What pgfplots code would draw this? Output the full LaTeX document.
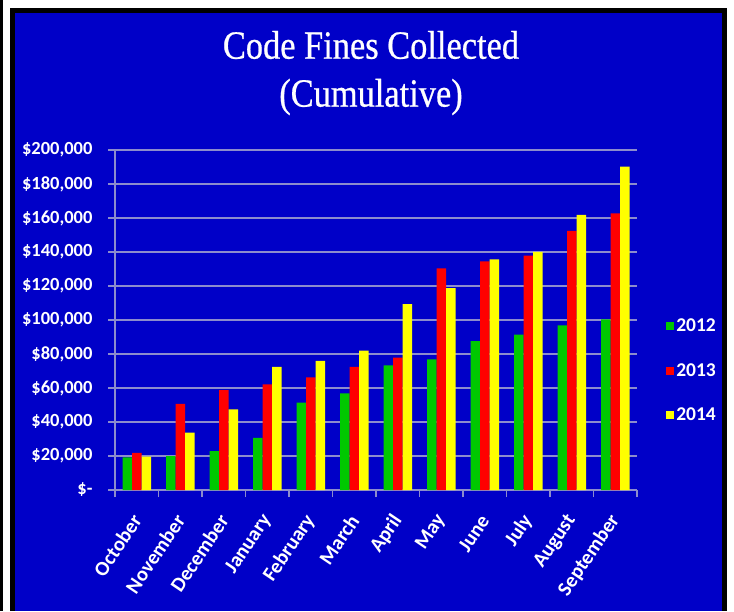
\documentclass[border=0pt]{standalone}
\usepackage{pgfplots}
\pgfplotsset{compat=1.18}
\usepackage{fontspec}
\setmainfont{Carlito}
\newfontfamily\titlefont[FakeStretch=0.86,FakeBold=0.6]{Liberation Serif}
\definecolor{bg}{RGB}{0,0,200}
\definecolor{gridc}{RGB}{140,140,205}
\definecolor{g12}{RGB}{0,200,0}
\definecolor{r13}{RGB}{255,0,0}
\definecolor{y14}{RGB}{255,255,0}
\begin{document}
\begin{tikzpicture}
\fill[white] (0,0) rectangle (734pt,611pt);
\fill[black] (0,0) rectangle (3pt,611pt);
\fill[black] (10pt,0) rectangle (727pt,603pt);
\fill[bg] (15pt,0) rectangle (722pt,598pt);
\node[text=white, font=\titlefont\fontsize{40}{44}\selectfont] at (371pt,566pt) {Code Fines Collected};
\node[text=white, font=\titlefont\fontsize{40}{44}\selectfont] at (371pt,514pt) {(Cumulative)};
\begin{axis}[
  at={(115pt,121pt)}, anchor=south west,
  scale only axis, width=522pt, height=340pt,
  ybar=0pt, bar width=9.5pt,
  xmin=-0.5, xmax=11.5, ymin=0, ymax=200000,
  xtick={0,...,11},
  xticklabels={October,November,December,January,February,March,April,May,June,July,August,September},
  minor xtick={-0.5,0.5,...,11.5},
  ytick={0,20000,...,200000},
  yticklabels={{\$-},{\$20,000},{\$40,000},{\$60,000},{\$80,000},{\$100,000},{\$120,000},{\$140,000},{\$160,000},{\$180,000},{\$200,000}},
  scaled y ticks=false,
  axis lines*=left,
  axis line style={draw=gridc, line width=1.2pt},
  ymajorgrids, grid style={draw=gridc, line width=1.5pt},
  tick align=outside, major tick length=7pt, minor tick length=7pt,
  tick style={draw=gridc, line width=1.2pt},
  every major x tick/.append style={draw=none},
  ticklabel style={text=white, font=\bfseries\fontsize{18.5}{20}\selectfont},
  xticklabel style={yshift=-17pt, xshift=2pt, rotate=56, anchor=east, font=\bfseries\fontsize{20.5}{22}\selectfont},
  yticklabel style={xshift=-12pt},
  legend style={at={(1.05,0.515)}, anchor=north west, draw=none, fill=none,
    text=white, font=\bfseries\fontsize{19.5}{21}\selectfont, row sep=26pt,
    nodes={inner xsep=2pt}},
  legend cell align=left,
  legend image code/.code={\fill[#1,draw=none] (2pt,-4pt) rectangle (10pt,4pt);},
]
\addplot[fill=g12, draw=none] coordinates {(0,19200) (1,20000) (2,22900) (3,30600) (4,51400) (5,56900) (6,73300) (7,76900) (8,87500) (9,91400) (10,96900) (11,100400)};
\addplot[fill=r13, draw=none] coordinates {(0,21900) (1,50600) (2,58800) (3,62200) (4,66300) (5,72500) (6,77800) (7,130400) (8,134500) (9,137800) (10,152400) (11,162700)};
\addplot[fill=y14, draw=none] coordinates {(0,19600) (1,33700) (2,47400) (3,72500) (4,75900) (5,82000) (6,109400) (7,118800) (8,135700) (9,140000) (10,161800) (11,190200)};
\legend{2012,2013,2014}
\end{axis}
\pgfresetboundingbox
\path[use as bounding box] (0,0) rectangle (734pt,611pt);
\end{tikzpicture}
\end{document}
